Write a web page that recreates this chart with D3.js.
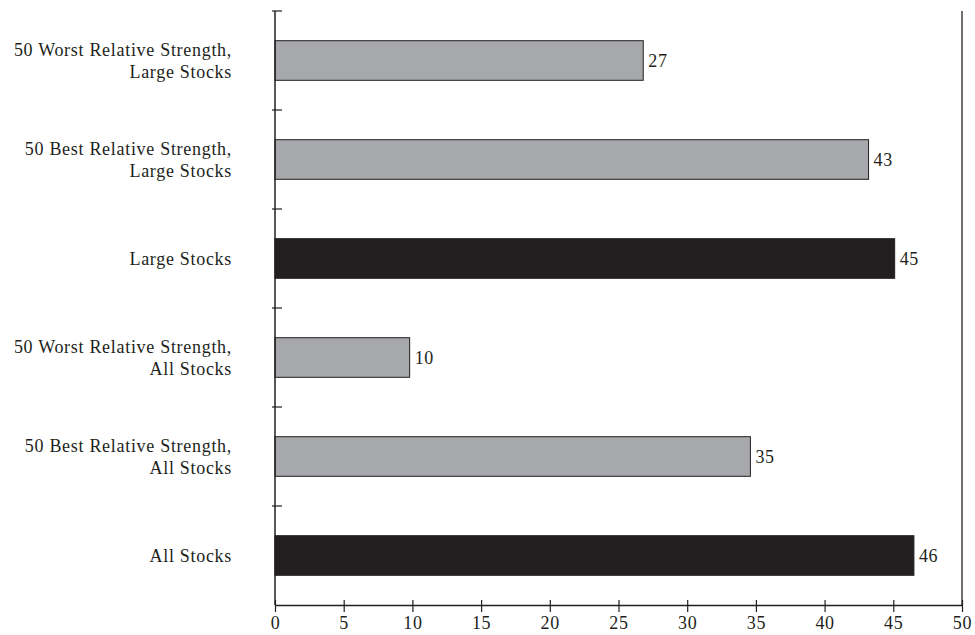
<!DOCTYPE html>
<html><head><meta charset="utf-8">
<script src="https://cdn.jsdelivr.net/npm/d3@7"></script>
<style>body{margin:0;background:#fff}svg{display:block}text{font-family:"Liberation Serif","DejaVu Serif",serif;fill:#231f20}</style>
</head><body>
<svg id="c" width="975" height="635"></svg>
<script>
const categories = [
  ["50 Worst Relative Strength,", "Large Stocks"],
  ["50 Best Relative Strength,", "Large Stocks"],
  ["Large Stocks"],
  ["50 Worst Relative Strength,", "All Stocks"],
  ["50 Best Relative Strength,", "All Stocks"],
  ["All Stocks"]
];
const values = [26.8, 43.2, 45.1, 9.8, 34.6, 46.5];
const valueLabels = ["27", "43", "45", "10", "35", "46"];
const isBenchmark = [false, false, true, false, false, true];
const xTicks = [0, 5, 10, 15, 20, 25, 30, 35, 40, 45, 50];

(function draw() {
const svg = d3.select("#c");
const mLeft = 275, mRight = 962, mTop = 11, mBottom = 605;
const x = d3.scaleLinear().domain([0, 50]).range([mLeft, mRight]);
const y = d3.scaleBand().domain(d3.range(categories.length)).range([mTop, mBottom]).paddingInner(0.6).paddingOuter(0.3);

const ink = "#231f20";
const fs = 18, ls = "0.7px";

// right frame
svg.append("line").attr("x1", mRight).attr("x2", mRight).attr("y1", mTop).attr("y2", mBottom)
  .attr("stroke", ink).attr("stroke-width", 1.3);

// bars
svg.selectAll("rect.bar").data(values).join("rect")
  .attr("x", x(0)).attr("y", (d, i) => y(i))
  .attr("width", d => x(d) - x(0)).attr("height", y.bandwidth())
  .attr("fill", (d, i) => isBenchmark[i] ? "#231f20" : "#a7a8ab")
  .attr("stroke", ink).attr("stroke-width", 1);

// value labels
svg.selectAll("text.val").data(values).join("text")
  .attr("x", d => x(d) + 5).attr("y", (d, i) => y(i) + y.bandwidth() / 2)
  .attr("dy", "0.35em").attr("font-size", fs).attr("letter-spacing", ls).text((d, i) => valueLabels[i]);

// y axis line + ticks at band boundaries
svg.append("line").attr("x1", mLeft).attr("x2", mLeft).attr("y1", mTop).attr("y2", mBottom)
  .attr("stroke", ink).attr("stroke-width", 1.5);
const step = (mBottom - mTop) / categories.length;
const yTickPos = d3.range(categories.length).map(i => mTop + i * step);
svg.selectAll("line.yt").data(yTickPos).join("line")
  .attr("x1", mLeft - 3).attr("x2", mLeft + 7).attr("y1", d => d).attr("y2", d => d)
  .attr("stroke", ink).attr("stroke-width", 1.2);

// category labels
const lab = svg.selectAll("text.cat").data(categories).join("text")
  .attr("text-anchor", "end").attr("font-size", fs).attr("letter-spacing", ls);
lab.each(function(lines, i) {
  const cy = y(i) + y.bandwidth() / 2;
  const lh = 22;
  const t = d3.select(this);
  lines.forEach((s, k) => {
    t.append("tspan").attr("x", 232)
      .attr("y", cy + (k - (lines.length - 1) / 2) * lh)
      .attr("dy", "0.35em").text(s);
  });
});

// x axis
const xAxis = svg.append("g").attr("transform", `translate(0,${mBottom})`)
  .call(d3.axisBottom(x).tickValues(xTicks).tickSize(7).tickSizeOuter(0).tickPadding(4));
xAxis.select(".domain").attr("stroke", ink).attr("stroke-width", 1.5);
xAxis.selectAll(".tick line").attr("stroke", ink).attr("stroke-width", 1.2).attr("y1", -5);
xAxis.selectAll(".tick text").attr("font-size", fs).attr("letter-spacing", ls)
  .attr("font-family", '"Liberation Serif","DejaVu Serif",serif').attr("fill", ink);
})();
</script>
</body></html>
